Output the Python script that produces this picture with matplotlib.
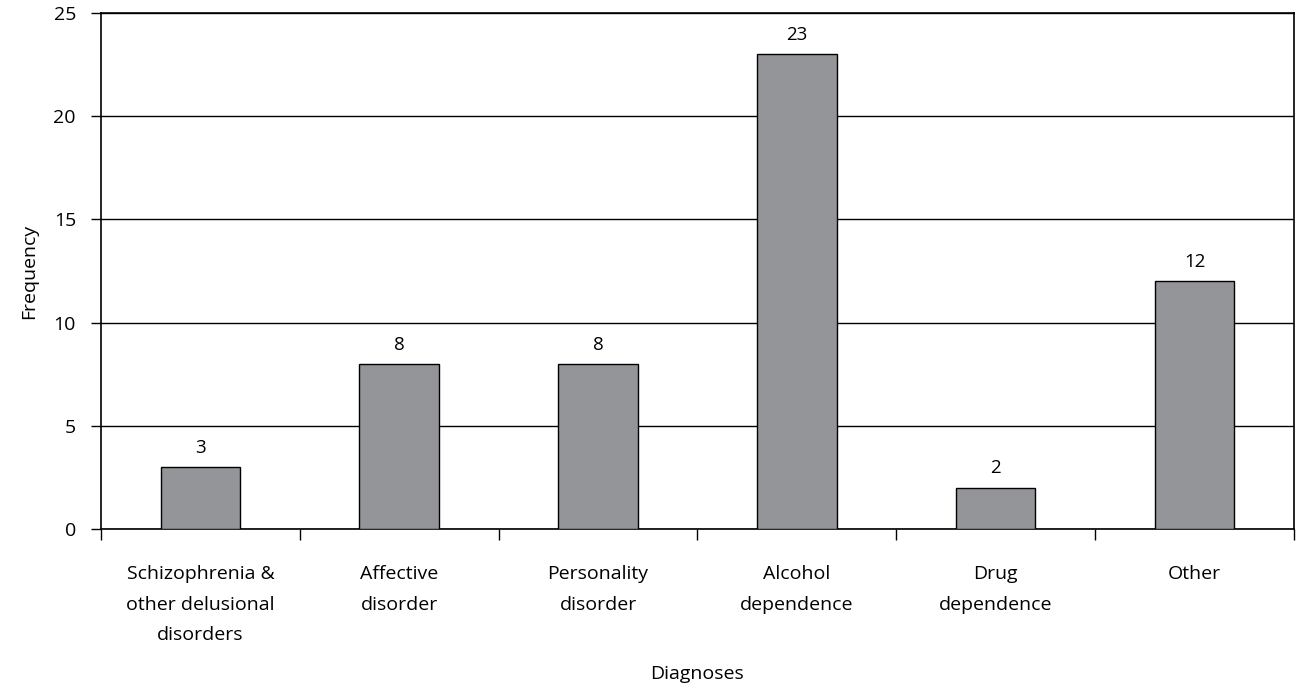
import matplotlib.pyplot as plt
import numpy as np

categories = ["Schizophrenia &\nother delusional\ndisorders", "Affective\ndisorder",
              "Personality\ndisorder", "Alcohol\ndependence", "Drug\ndependence", "Other"]
counts = [3, 8, 8, 23, 2, 12]
yticks = [0, 5, 10, 15, 20, 25]

plt.rcParams['font.family'] = ['Open Sans', 'DejaVu Sans']

fig = plt.figure(figsize=(13.01, 6.89), dpi=100)
ax = fig.add_axes([0.0776, 0.2322, 0.9170, 0.7488])

x = np.arange(len(categories))
ax.bar(x, counts, width=0.4, color='#939598', edgecolor='black', linewidth=1, zorder=3)
for xi, c in zip(x, counts):
    ax.text(xi, c + 0.5, str(c), ha='center', va='bottom', fontsize=13.5)

ax.set_xlim(-0.5, len(categories) - 0.5)
ax.set_ylim(0, 25)
ax.set_yticks(yticks)
ax.set_yticklabels(yticks, fontsize=14)
ax.yaxis.grid(True, color='black', linewidth=1)
ax.set_axisbelow(True)

ax.set_xticks(x)
ax.set_xticklabels(categories, fontsize=14, linespacing=1.9)
ax.tick_params(axis='x', length=0, pad=26)
ax.set_xticks(np.arange(len(categories) + 1) - 0.5, minor=True)
ax.tick_params(axis='x', which='minor', length=8, width=1)
ax.tick_params(axis='y', length=7, width=1, pad=11)

for s in ax.spines.values():
    s.set_linewidth(1.2)

ax.set_ylabel("Frequency", fontsize=14, labelpad=11)
ax.set_xlabel("Diagnoses", fontsize=14, labelpad=15)

fig.savefig("out.png", dpi=100)
